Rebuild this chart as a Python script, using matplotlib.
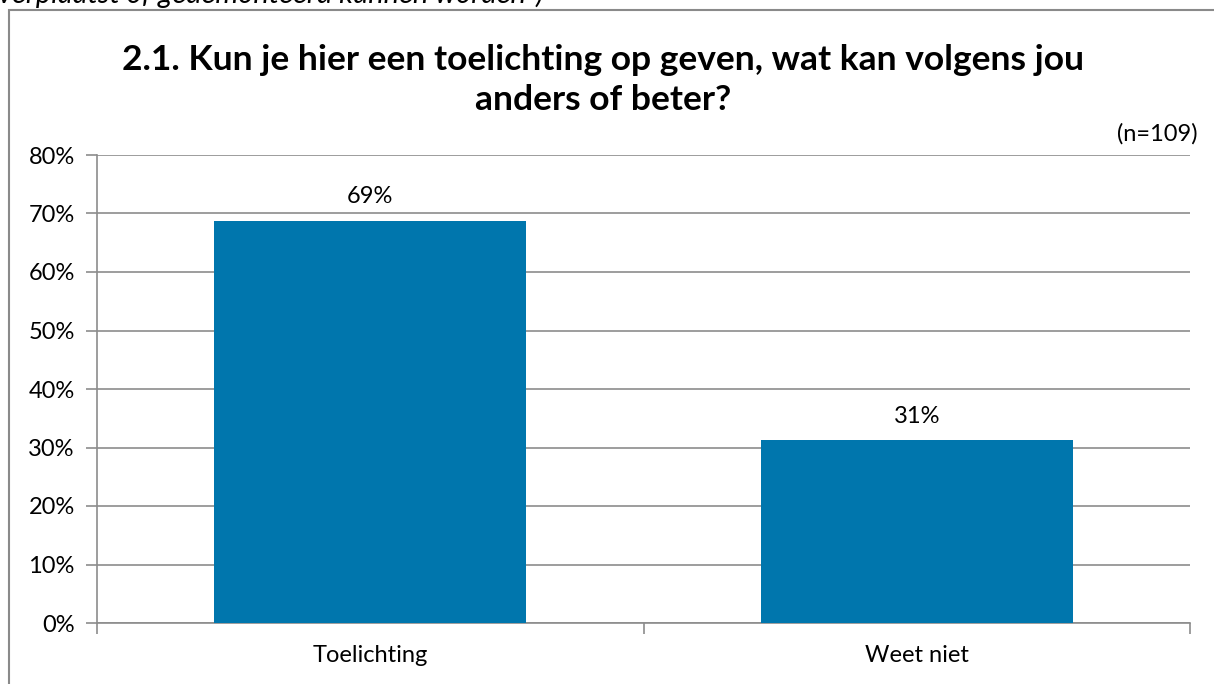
import matplotlib
matplotlib.use("Agg")
import matplotlib.pyplot as plt
from matplotlib.patches import Rectangle

categories = ["Toelichting", "Weet niet"]
values = [68.8, 31.2]
value_labels = ["69%", "31%"]
yticks = [0, 10, 20, 30, 40, 50, 60, 70, 80]
ytick_labels = [f"{t}%" for t in yticks]
title = "2.1. Kun je hier een toelichting op geven, wat kan volgens jou\nanders of beter?"
note = "(n=109)"
top_text = "verplaatst of gedemonteerd kunnen worden\")"

W, H = 1214, 684
fig = plt.figure(figsize=(W/100, H/100), dpi=100)
plt.rcParams['font.family'] = ['Lato', 'DejaVu Sans']

grid_c = "#8c8c8c"
bar_c = "#0076ad"
fs = 17

# outer frame
fig.patches.append(Rectangle((8.5/W, -0.1), 1.2, 1 - 10.5/H + 0.1, transform=fig.transFigure,
                             fill=False, edgecolor="#8a8a8a", linewidth=1.5))
fig.text(-0.002, 1 - 3/H, top_text, style='italic', fontsize=21, va='baseline', ha='left')

ax = fig.add_axes([97/W, 1 - 623/H, (1190-97)/W, (623-155)/H])
x = list(range(len(categories)))
ax.bar(x, values, width=0.57, color=bar_c, zorder=3)
ax.set_xlim(-0.5, len(categories) - 0.5)
ax.set_ylim(0, 80)
ax.set_yticks(yticks)
ax.set_yticklabels(ytick_labels, fontsize=fs)
ax.yaxis.grid(True, color=grid_c, linewidth=1.2, zorder=0)
ax.set_axisbelow(True)
ax.set_xticks([-0.5, 0.5, 1.5])
ax.set_xticklabels([])
ax.set_xticks(x, minor=True)
ax.set_xticklabels(categories, minor=True, fontsize=fs)
ax.tick_params(axis='x', which='minor', length=0, pad=16)
ax.tick_params(axis='x', which='major', length=8, color=grid_c, width=1.2, direction='out')
ax.tick_params(axis='y', length=8, color=grid_c, width=1.2, direction='out', pad=8)
for s in ['top', 'right']:
    ax.spines[s].set_visible(False)
for s in ['left', 'bottom']:
    ax.spines[s].set_color(grid_c)
    ax.spines[s].set_linewidth(1.2)

for xi, v, lab in zip(x, values, value_labels):
    ax.annotate(lab, (xi, v), xytext=(0, 10), textcoords='offset points',
                ha='center', va='bottom', fontsize=fs)

fig.text(603/W, 1 - 80/H, title, ha='center', va='center', fontsize=25.5,
         fontweight='bold', linespacing=1.33)
fig.text(1198/W, 1 - 141/H, note, ha='right', va='baseline', fontsize=fs)

fig.savefig("out.png", dpi=100)
